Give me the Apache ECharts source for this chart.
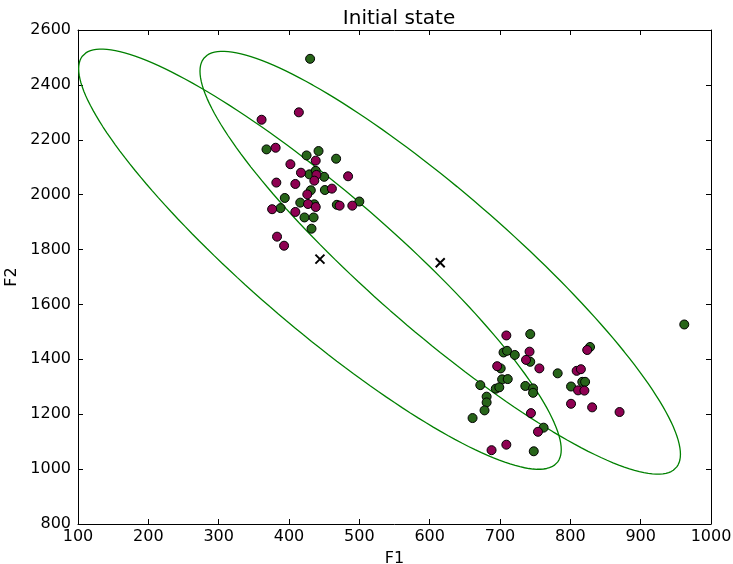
<!DOCTYPE html>
<html>
<head>
<meta charset="utf-8">
<script src="https://cdn.jsdelivr.net/npm/echarts@6/dist/echarts.min.js"></script>
<style>html,body{margin:0;padding:0;background:#fff}#c{width:733px;height:564px}</style>
</head>
<body>
<div id="c"></div>
<script>
// ---- data ----
var xTicks = [100, 200, 300, 400, 500, 600, 700, 800, 900, 1000];
var yTicks = [800, 1000, 1200, 1400, 1600, 1800, 2000, 2200, 2400, 2600];

var greenF1 = [430,368,425,442,467,429,438,450,431,451,394,416,436,468,500,388,422,435,432,
  743,705,710,721,743,701,782,703,711,672,736,747,747,694,699,801,681,681,678,661,762,748,828,817,821,962];
var greenF2 = [2495,2165,2143,2159,2131,2074,2087,2065,2016,2017,1988,1971,1965,1963,1975,1951,1917,1917,1876,
  1492,1425,1431,1416,1391,1367,1349,1327,1328,1306,1303,1294,1278,1293,1298,1301,1264,1243,1214,1186,1151,1065,1445,1318,1318,1527];

var purpleF1 = [361,414,381,438,402,417,439,484,436,382,409,461,426,427,438,472,490,376,409,383,393,
  709,742,737,756,696,809,815,811,820,801,744,754,709,688,824,831,870];
var purpleF2 = [2273,2300,2171,2124,2111,2080,2072,2067,2051,2044,2039,2022,2001,1966,1955,1960,1960,1947,1937,1847,1814,
  1487,1428,1398,1367,1375,1358,1364,1287,1286,1238,1204,1136,1089,1069,1434,1225,1208];

// component means and covariance (xx, xy, yy)
var meansF1 = [444, 615];
var meansF2 = [1765, 1752];
var covXX = [117700, 116660];
var covXY = [-238010, -238330];
var covYY = [586300, 593680];

// ---- build ----
function pairs(a, b) { return a.map(function (v, i) { return [v, b[i]]; }); }
function ellipse(k) {
  var l11 = Math.sqrt(covXX[k]);
  var l21 = covXY[k] / l11;
  var l22 = Math.sqrt(covYY[k] - l21 * l21);
  var pts = [];
  for (var i = 0; i <= 180; i++) {
    var t = i / 180 * 2 * Math.PI, c = Math.cos(t), s = Math.sin(t);
    pts.push([meansF1[k] + l11 * c, meansF2[k] + l21 * c + l22 * s]);
  }
  return pts;
}
var FONT = 'DejaVu Sans';
var lab = { color: '#000', fontSize: 16, fontFamily: FONT, formatter: function (v) { return String(v); } };
function xAx(pos, show) {
  return {
    type: 'value', position: pos, min: xTicks[0], max: xTicks[xTicks.length - 1], interval: 100,
    name: show ? 'F1' : '', nameLocation: 'middle', nameGap: 27, nameMoveOverlap: false,
    nameTextStyle: { color: '#000', fontSize: 16, fontFamily: FONT },
    axisLine: { show: true, onZero: false, lineStyle: { color: '#000', width: 1 } },
    axisTick: { show: true, inside: true, length: 5, lineStyle: { color: '#000' } },
    axisLabel: show ? Object.assign({ margin: 5 }, lab) : { show: false },
    splitLine: { show: false }
  };
}
function yAx(pos, show) {
  return {
    type: 'value', position: pos, min: yTicks[0], max: yTicks[yTicks.length - 1], interval: 200,
    name: show ? 'F2' : '', nameLocation: 'middle', nameGap: 58, nameMoveOverlap: false,
    nameTextStyle: { color: '#000', fontSize: 16, fontFamily: FONT },
    axisLine: { show: true, onZero: false, lineStyle: { color: '#000', width: 1 } },
    axisTick: { show: true, inside: true, length: 5, lineStyle: { color: '#000' } },
    axisLabel: show ? Object.assign({ margin: 7 }, lab) : { show: false },
    splitLine: { show: false }
  };
}
var chart = echarts.init(document.getElementById('c'), null, { renderer: 'canvas' });
var series = [];
[0, 1].forEach(function (k) {
  series.push({ type: 'line', data: ellipse(k), showSymbol: false, symbol: 'none', smooth: false,
    lineStyle: { color: '#008000', width: 1.3 }, silent: true, z: 2, animation: false });
});
series.push({ type: 'scatter', data: pairs(greenF1, greenF2), symbolSize: 9,
  itemStyle: { color: '#276419', borderColor: '#000', borderWidth: 1, opacity: 1 }, z: 3, animation: false });
series.push({ type: 'scatter', data: pairs(purpleF1, purpleF2), symbolSize: 9,
  itemStyle: { color: '#8e0152', borderColor: '#000', borderWidth: 1, opacity: 1 }, z: 3, animation: false });
series.push({ type: 'scatter', data: pairs(meansF1, meansF2), symbol: 'path://M0,0L10,10M10,0L0,10', symbolSize: 9,
  itemStyle: { color: 'none', borderColor: '#000', borderWidth: 2, opacity: 1 }, z: 4, animation: false });

chart.setOption({
  animation: false,
  backgroundColor: '#fff',
  title: { text: 'Initial state', left: 394, top: 4, textAlign: 'center',
    textStyle: { color: '#000', fontSize: 20, fontWeight: 'normal', fontFamily: FONT } },
  grid: { left: 78, right: 22, top: 30, bottom: 40, show: false, containLabel: false, outerBoundsMode: 'none' },
  xAxis: [xAx('bottom', true), xAx('top', false)],
  yAxis: [yAx('left', true), yAx('right', false)],
  series: series
});
</script>
</body>
</html>
